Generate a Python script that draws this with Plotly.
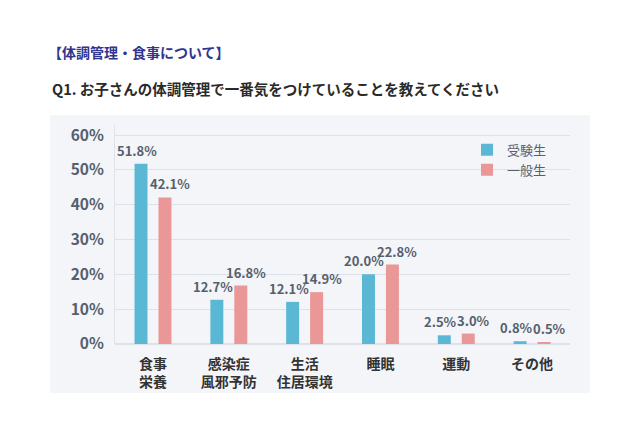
import plotly.graph_objects as go

categories = ["食事<br>栄養", "感染症<br>風邪予防", "生活<br>住居環境", "睡眠", "運動", "その他"]
exam_students = [51.8, 12.7, 12.1, 20.0, 2.5, 0.8]
general_students = [42.1, 16.8, 14.9, 22.8, 3.0, 0.5]
series_names = ["受験生", "一般生"]
y_ticks = [0, 10, 20, 30, 40, 50, 60]
y_tick_labels = ["0%", "10%", "20%", "30%", "40%", "50%", "60%"]

FONT = "Noto Sans CJK JP"
BLUE = "#5bb8d5"
PINK = "#e99797"
LABEL = "#56606d"

fig = go.Figure()
for name, vals, col in [(series_names[0], exam_students, BLUE), (series_names[1], general_students, PINK)]:
    fig.add_trace(go.Bar(
        x=categories, y=vals, name=name, marker=dict(color=col, line=dict(width=0)),
    ))

# page body has an 8px margin, so the figure is 8px smaller and shifted
PL, PT = 115, 344  # plot left / zero line in page pixels
PW, PH = 455, 219

annotations = [
    dict(text="<b>【体調管理・食事について】</b>", xref="paper", yref="paper",
         x=(46 - PL) / PW, y=(PT - 52) / PH, xanchor="left", yanchor="middle", showarrow=False,
         font=dict(family=FONT, size=14, color="#2f3590")),
    dict(text="<b>Q1. お子さんの体調管理で一番気をつけていることを教えてください</b>", xref="paper", yref="paper",
         x=(50 - PL) / PW, y=(PT - 88) / PH, xanchor="left", yanchor="middle", showarrow=False,
         font=dict(family=FONT, size=14.5, color="#2a2a2a")),
]
# value labels above each bar (bars sit 12px left/right of the category centre)
for vals, shift in [(exam_students, -16), (general_students, 17)]:
    for c, v in zip(categories, vals):
        annotations.append(dict(
            x=c, y=v, xref="x", yref="y", text=f"<b>{v:.1f}%</b>", showarrow=False,
            xanchor="center", yanchor="bottom", xshift=shift, yshift=2,
            font=dict(family=FONT, size=13, color=LABEL)))

fig.update_layout(
    width=632, height=418,
    paper_bgcolor="white", plot_bgcolor="rgba(0,0,0,0)",
    margin=dict(l=107, r=70, t=117, b=82, autoexpand=False),
    barmode="group", bargap=0.368, bargroupgap=0.458,
    font=dict(family=FONT),
    showlegend=True,
    legend=dict(x=(467 - PL) / PW, y=0.955, xanchor="left", yanchor="top", bgcolor="rgba(0,0,0,0)",
                font=dict(family=FONT, size=13, color=LABEL), itemwidth=30,
                tracegroupgap=2),
    shapes=[dict(type="rect", xref="paper", yref="paper", layer="below",
                 x0=(50 - PL) / PW, x1=(590 - PL) / PW, y0=(PT - 393) / PH, y1=(PT - 115) / PH,
                 fillcolor="#f3f5f9", line=dict(width=0))],
    annotations=annotations,
)
fig.update_xaxes(showgrid=False, showline=False, ticks="", automargin=False,
                 ticklabelstandoff=10,
                 tickfont=dict(family=FONT, size=14, color="#333333", weight="bold"))
fig.update_yaxes(range=[0, 62.9], tickvals=y_ticks, ticktext=y_tick_labels,
                 showgrid=True, gridcolor="#dde2ea", gridwidth=1,
                 showline=True, linecolor="#dde2ea", linewidth=1,
                 zeroline=True, zerolinecolor="#dde2ea", automargin=False,
                 ticks="", ticklabelstandoff=7,
                 tickfont=dict(family=FONT, size=15.5, color="#56606d", weight="bold"))

fig.write_html("out.html")
